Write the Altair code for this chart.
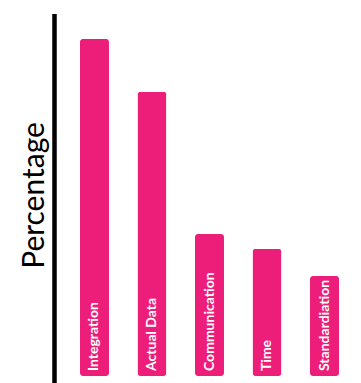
import altair as alt
import pandas as pd

categories = ["Integration", "Actual Data", "Communication", "Time", "Standardiation"]
values = [93.1, 78.5, 39.2, 35.1, 27.6]

df = pd.DataFrame({"category": categories, "value": values})

x_enc = alt.X("category:N", sort=categories, axis=None,
              scale=alt.Scale(paddingInner=0.4957, paddingOuter=0.3826))

base = alt.Chart(df)

bars = base.mark_bar(color="#EC1E79", cornerRadius=3).encode(
    x=x_enc,
    y=alt.Y("value:Q",
            scale=alt.Scale(domain=[0, 100], nice=False, zero=True),
            axis=alt.Axis(title="Percentage", domain=False, labels=False, ticks=False,
                          grid=False, titleFont="Lato", titleFontSize=30,
                          titleFontWeight="normal", titleColor="black",
                          titleAngle=270, titleAlign="center",
                          titleBaseline="alphabetic", titleX=-15, titleY=181)),
)

labels = base.mark_text(color="white", font="Lato", fontWeight="bold", fontSize=14,
                        angle=270, align="left", baseline="middle", dx=5).encode(
    x=x_enc,
    y=alt.Y("zero:Q"),
    text="category:N",
).transform_calculate(zero="0")

axis_line = alt.Chart(pd.DataFrame({"a": [0]})).mark_rule(color="black", strokeWidth=4.5).encode(
    x=alt.value(-3.5), y=alt.value(0), y2=alt.value(369)
)

chart = alt.layer(bars, labels, axis_line).properties(
    width=303, height=362,
    padding={"left": 58, "top": 14, "right": 0, "bottom": 7},
    autosize=alt.AutoSizeParams(type="none"),
).configure(background="white").configure_view(strokeWidth=0, stroke="transparent")

chart.save("out.html", embed_options={"renderer": "svg", "actions": False})
